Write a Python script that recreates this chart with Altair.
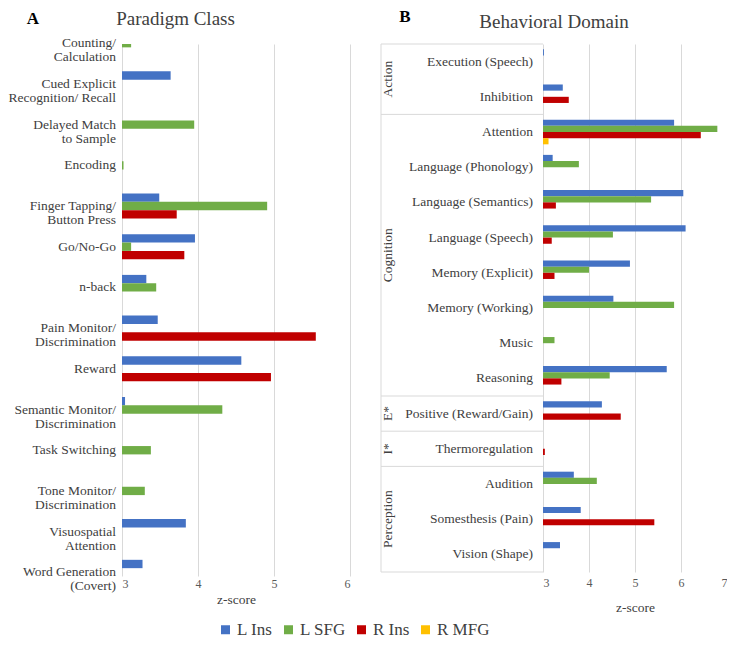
import altair as alt
import pandas as pd

FONT = "Liberation Serif"
TXT = "#404040"
GRID = "#d9d9d9"

series = ["L Ins", "L SFG", "R Ins", "R MFG"]
colors = ["#4472C4", "#70AD47", "#C00000", "#FFC000"]

# ---- Panel A: Paradigm Class ----
left_categories = [
    "Counting/\nCalculation",
    "Cued Explicit\nRecognition/ Recall",
    "Delayed Match\nto Sample",
    "Encoding",
    "Finger Tapping/\nButton Press",
    "Go/No-Go",
    "n-back",
    "Pain Monitor/\nDiscrimination",
    "Reward",
    "Semantic Monitor/\nDiscrimination",
    "Task Switching",
    "Tone Monitor/\nDiscrimination",
    "Visuospatial\nAttention",
    "Word Generation\n(Covert)",
]
left_l_ins = [3.0, 3.64, 3.0, 3.0, 3.49, 3.96, 3.32, 3.47, 4.57, 3.04, 3.0, 3.0, 3.84, 3.27]
left_l_sfg = [3.12, 3.0, 3.95, 3.02, 4.91, 3.12, 3.45, 3.0, 3.0, 4.32, 3.38, 3.30, 3.0, 3.0]
left_r_ins = [3.0, 3.0, 3.0, 3.0, 3.72, 3.82, 3.0, 5.55, 4.96, 3.0, 3.0, 3.0, 3.0, 3.0]
left_ticks = [3, 4, 5, 6]

# ---- Panel B: Behavioral Domain ----
right_categories = [
    "Execution (Speech)", "Inhibition", "Attention", "Language (Phonology)",
    "Language (Semantics)", "Language (Speech)", "Memory (Explicit)",
    "Memory (Working)", "Music", "Reasoning", "Positive (Reward/Gain)",
    "Thermoregulation", "Audition", "Somesthesis (Pain)", "Vision (Shape)",
]
right_groups = ["Action", "Cognition", "E*", "I*", "Perception"]
right_group_sizes = [2, 8, 1, 1, 3]
right_l_ins = [3.02, 3.43, 5.85, 3.21, 6.05, 6.10, 4.89, 4.53, 3.0, 5.69, 4.28, 3.0, 3.67, 3.82, 3.37]
right_l_sfg = [3.0, 3.0, 6.79, 3.78, 5.35, 4.52, 4.00, 5.85, 3.25, 4.45, 3.0, 3.0, 4.17, 3.0, 3.0]
right_r_ins = [3.0, 3.56, 6.43, 3.0, 3.28, 3.19, 3.25, 3.0, 3.0, 3.40, 4.69, 3.04, 3.0, 5.42, 3.0]
right_r_mfg = [3.0, 3.0, 3.12, 3.0, 3.0, 3.0, 3.0, 3.0, 3.0, 3.0, 3.0, 3.0, 3.0, 3.0, 3.0]
right_ticks = [3, 4, 5, 6, 7]


def long_df(cats, cols):
    rows = []
    for i, c in enumerate(cats):
        for s, vals in enumerate(cols):
            rows.append({"cat": c, "idx": i, "series": series[s], "sidx": s, "z": vals[i]})
    return pd.DataFrame(rows)


left_df = long_df(left_categories, [left_l_ins, left_l_sfg, left_r_ins])
right_df = long_df(right_categories, [right_l_ins, right_l_sfg, right_r_ins, right_r_mfg])

W_L, H_L = 228, 532
W_R, H_R = 184, 528
yscale_L = alt.Scale(domain=[0.02, 13.09], reverse=True)
yscale_R = alt.Scale(domain=[-0.5, 14.5], reverse=True)

legend = alt.Legend(
    orient="none", legendX=95, legendY=577, direction="horizontal", columns=4,
    title=None, symbolType="square", symbolSize=81, symbolStrokeWidth=0,
    labelFont=FONT, labelFontSize=17, labelColor=TXT, labelOffset=3,
    columnPadding=7, padding=0,
)
color = alt.Color("series:N", scale=alt.Scale(domain=series, range=colors), legend=legend)


def xaxis(ticks, label_pad, title_pad):
    return alt.Axis(
        values=ticks, grid=True, gridColor=GRID, domain=False, ticks=False,
        labelFont=FONT, labelFontSize=12, labelColor="#595959", labelPadding=label_pad,
        title="z-score", titleFont=FONT, titleFontSize=13.5, titleFontWeight="normal",
        titleColor=TXT, titlePadding=title_pad,
    )


def text_layer(text, x, y, size, weight="normal", col=TXT):
    return alt.Chart(pd.DataFrame({"t": [text]})).mark_text(
        font=FONT, fontSize=size, fontWeight=weight, color=col, align="center", baseline="middle"
    ).encode(x=alt.value(x), y=alt.value(y), text="t:N")


tL = 0.205
left_bars = alt.Chart(left_df).transform_calculate(
    yc=f"datum.idx + (datum.sidx - 1) * {tL}"
).transform_calculate(
    y0=f"datum.yc - {tL / 2}", y1=f"datum.yc + {tL / 2}"
).mark_bar(clip=True).encode(
    x=alt.X("z:Q", scale=alt.Scale(domain=[3, 6], nice=False, zero=False), axis=xaxis(left_ticks, 2, 3)),
    x2=alt.datum(3),
    y=alt.Y("y0:Q", scale=yscale_L, axis=None),
    y2="y1:Q",
    color=color,
)
left_labels = alt.Chart(pd.DataFrame({"cat": left_categories, "idx": list(range(len(left_categories)))})).mark_text(
    align="right", baseline="middle", font=FONT, fontSize=13.5, color=TXT, lineBreak="\n", lineHeight=14
).encode(x=alt.value(-6), y=alt.Y("idx:Q", scale=yscale_L, axis=None), text="cat:N")

left = alt.layer(
    left_bars, left_labels,
    text_layer("Paradigm Class", (-113 + W_L) / 2 - 4, -25, 19),
    text_layer("A", -89, -25, 17, "bold", "#000000"),
).properties(width=W_L, height=H_L)

tR = 0.175
right_bars = alt.Chart(right_df).transform_calculate(
    yc=f"datum.idx + (datum.sidx - 1.5) * {tR}"
).transform_calculate(
    y0=f"datum.yc - {tR / 2}", y1=f"datum.yc + {tR / 2}"
).mark_bar(clip=True).encode(
    x=alt.X("z:Q", scale=alt.Scale(domain=[3, 7], nice=False, zero=False), axis=xaxis(right_ticks, 5, 12)),
    x2=alt.datum(3),
    y=alt.Y("y0:Q", scale=yscale_R, axis=None),
    y2="y1:Q",
    color=color,
)
right_labels = alt.Chart(pd.DataFrame({"cat": right_categories, "idx": list(range(len(right_categories)))})).mark_text(
    align="right", baseline="middle", font=FONT, fontSize=13.5, color=TXT
).encode(x=alt.value(-10), y=alt.Y("idx:Q", scale=yscale_R, axis=None), text="cat:N")

bounds = [-0.5]
mids = []
start = 0
for n in right_group_sizes:
    mids.append(start + (n - 1) / 2)
    start += n
    bounds.append(start - 0.5)

RULE_X = -162
sep_rules = alt.Chart(pd.DataFrame({"b": bounds})).mark_rule(color=GRID, strokeWidth=1).encode(
    x=alt.value(RULE_X), x2=alt.value(0), y=alt.Y("b:Q", scale=yscale_R, axis=None)
)
vert_rule = alt.Chart(pd.DataFrame({"a": [0]})).mark_rule(color=GRID, strokeWidth=1).encode(
    x=alt.value(RULE_X), y=alt.value(0), y2=alt.value(H_R)
)
group_labels = alt.Chart(pd.DataFrame({"g": right_groups, "mid": mids})).mark_text(
    angle=270, align="center", baseline="middle", font=FONT, fontSize=13.5, color=TXT
).encode(x=alt.value(RULE_X + 7), y=alt.Y("mid:Q", scale=yscale_R, axis=None), text="g:N")

right = alt.layer(
    right_bars, right_labels, sep_rules, vert_rule, group_labels,
    text_layer("Behavioral Domain", (RULE_X + W_R) / 2, -22, 19),
    text_layer("B", RULE_X + 24, -27, 17, "bold", "#000000"),
).properties(width=W_R, height=H_R)

chart = alt.hconcat(left, right, spacing=30).resolve_scale(
    x="independent", y="independent", color="shared"
).resolve_legend(color="shared").configure_view(stroke=None).properties(padding=0)

chart.save("out.html", embed_options={"renderer": "svg", "actions": False})
